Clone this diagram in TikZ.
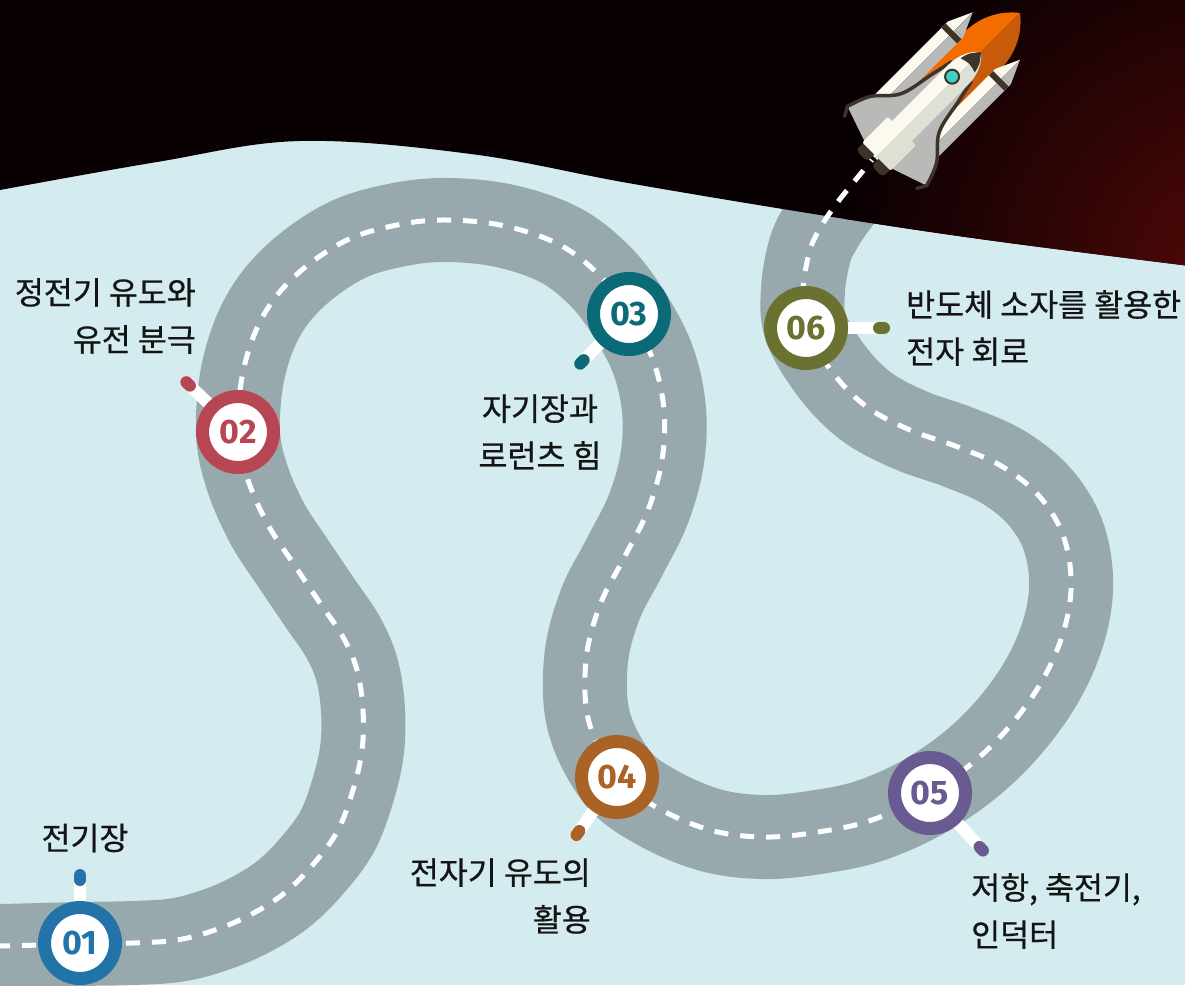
\documentclass[tikz,border=0pt]{standalone}
\usepackage{fontspec}
\setmainfont{Fira Sans}
\newfontfamily\krfont{Noto Sans CJK KR}[FakeBold=0.6]
\usetikzlibrary{calc}

\definecolor{skyblack}{HTML}{090003}
\definecolor{skyglow}{HTML}{520907}
\definecolor{ground}{HTML}{D4EBEF}
\definecolor{asphalt}{HTML}{97A9AD}
\definecolor{stepA}{HTML}{2173A8}
\definecolor{stepB}{HTML}{B84552}
\definecolor{stepC}{HTML}{0A6A78}
\definecolor{stepD}{HTML}{A96326}
\definecolor{stepE}{HTML}{695A92}
\definecolor{stepF}{HTML}{6A7131}
\definecolor{hull}{HTML}{FCF9EE}
\definecolor{hullshade}{HTML}{DFE0D4}
\definecolor{wing}{HTML}{B9B9B7}
\definecolor{trim}{HTML}{3D3329}
\definecolor{flame}{HTML}{F26C00}
\definecolor{flamedark}{HTML}{C85B0A}
\definecolor{porthole}{HTML}{3CD0C6}
\definecolor{ink}{HTML}{141414}

%% centre line of the road, from stop 01 up to the shuttle
\newcommand{\roadline}{plot[smooth,tension=0.6] coordinates {
  (-30,946) (0,946) (80,944) (133,943) (177,940) (215,930) (250,915)
  (282,895) (310,868) (337,832) (353,790) (362,750) (363,710) (357,670)
  (343,637) (320,603) (293,563) (267,523) (247,477) (238,432) (243,372)
  (262,318) (295,276) (345,241) (397,225) (447,220) (505,226) (560,245)
  (600,276) (629,314) (653,360) (664,410) (662,460) (648,510) (624,558)
  (600,605) (586,660) (589,722) (617,777) (656,807) (710,830) (764,837)
  (818,832) (872,820) (930,793) (985,752) (1030,700) (1059,645)
  (1071,590) (1064,538) (1040,497) (1003,467) (958,447) (910,430)
  (867,407) (833,373) (806,328) (803,290) (810,250) (822,225) (837,203)
  (853,183) (872,160)}}
%% outline of the night sky
\newcommand{\skyline}{(-5,-5) -- (-5,190) -- plot[smooth,tension=0.6]
  coordinates {(0,190) (157,162) (300,141) (471,154) (628,183) (820,215)
  (987,240) (1190,266)} -- (1190,-5) -- cycle}

\begin{document}
\begin{tikzpicture}[x=1pt,y=-1pt,
  road/.style={draw=asphalt,line width=84pt},
  lane/.style={draw=white,line width=5pt,dash pattern=on 14pt off 12pt},
  milestone/.style={circle,draw=#1,fill=white,line width=13pt,
    minimum size=71pt,inner sep=0pt,text=#1,
    font=\bfseries\fontsize{34}{34}\selectfont},
  pinstem/.style={draw=white,line width=12pt,line cap=round},
  pinhead/.style={draw=#1,line width=12pt,line cap=round},
  steptext/.style={inner sep=0pt,text=ink,
    font=\krfont\fontsize{31.5}{47}\selectfont}]
\useasboundingbox (0,0) rectangle (1185,985);
\clip (0,0) rectangle (1185,985);
\fill[ground] (0,0) rectangle (1185,985);

%% road and sky
\draw[road] \roadline;
\fill[skyblack] \skyline;
\begin{scope}
  \clip \skyline;
  \shade[inner color=skyglow,outer color=skyblack] (1240,275) circle (400);
\end{scope}
\draw[lane] \roadline;

%% stops along the road
\foreach \num/\x/\y/\col/\tx/\ty in {01/80/943/stepA/80/869,
  02/238/432/stepB/182/378, 03/629/314/stepC/576/368,
  04/617/777/stepD/573/840, 05/930/793/stepE/987/855,
  06/806/328/stepF/890/328} {
  \coordinate (c\num) at (\x,\y);
  \coordinate (tip\num) at (\tx,\ty);
  \draw[pinstem] (c\num) -- ($(tip\num)!6pt!(c\num)$);
  \draw[pinhead=\col] ($(tip\num)!6pt!(c\num)$) -- ($(tip\num)!11pt!(c\num)$);
  \node[milestone=\col] (m\num) at (c\num) {\num};
}

%% labels
\node[steptext] (t01) at (85,838) {전기장};
\node[steptext,align=right,anchor=east] (t02) at (196,316) {정전기 유도와\\유전 분극};
\node[steptext,align=center] (t03) at (540,432) {자기장과\\로런츠 힘};
\node[steptext,align=right,anchor=east] (t04) at (591,896) {전자기 유도의\\활용};
\node[steptext,align=left,anchor=west] (t05) at (971,911) {저항, 축전기,\\인덕터};
\node[steptext,align=left,anchor=west] (t06) at (906,328) {반도체 소자를 활용한\\전자 회로};

%% space shuttle
\begin{scope}[shift={(875,158)},rotate=45]
  % external tank
  \fill[flame] (45,-26) -- (150,-26) .. controls (178,-26) and (196,-12) .. (205,0) -- (45,0) -- cycle;
  \fill[flamedark] (45,26) -- (150,26) .. controls (178,26) and (196,12) .. (205,0) -- (45,0) -- cycle;
  % boosters
  \foreach \t in {-34,33} {
    \fill[hull] (30,\t-11) rectangle (148,\t);
    \fill[wing] (30,\t) rectangle (148,\t+11);
    \fill[hull] (148,\t-11) -- (172,\t) -- (148,\t) -- cycle;
    \fill[wing] (148,\t) -- (172,\t) -- (148,\t+11) -- cycle;
    \fill[trim] (139,\t-11) rectangle (145,\t+11);
  }
  % wings
  \foreach \w in {1,-1} {
    \fill[wing] (4,-18*\w) -- (17,-56*\w) -- plot[smooth,tension=0.6]
      coordinates {(17,-56*\w) (40,-47*\w) (64,-27*\w) (99,-19*\w) (122,-14*\w)}
      -- (122,0) -- (4,0) -- cycle;
    \draw[trim,line width=3.5pt,line cap=round,line join=round] (8,-51*\w) -- (17,-56*\w)
      -- plot[smooth,tension=0.6] coordinates {(17,-56*\w) (40,-47*\w) (64,-27*\w) (99,-19*\w) (122,-14*\w)};
  }
  % fuselage
  \fill[hull] (0,-14) -- (118,-14) .. controls (135,-14) and (145,-6) .. (150,0) -- (0,0) -- cycle;
  \fill[hullshade] (0,14) -- (118,14) .. controls (135,14) and (145,6) .. (150,0) -- (0,0) -- cycle;
  \fill[trim] (131,-10) .. controls (140,-8) .. (150,0) .. controls (140,8) .. (131,10) .. controls (134,0) .. (131,-10) -- cycle;
  \filldraw[fill=porthole,draw=trim,line width=2pt] (112,-3) circle (7);
  % engines
  \fill[trim,rounded corners=4pt] (-8,-19) rectangle (6,-3);
  \fill[trim,rounded corners=4pt] (-8,3) rectangle (6,19);
  \fill[hull,rounded corners=2pt] (2,-20) rectangle (38,-1);
  \fill[hullshade,rounded corners=2pt] (2,1) rectangle (38,20);
\end{scope}
\end{tikzpicture}
\end{document}
